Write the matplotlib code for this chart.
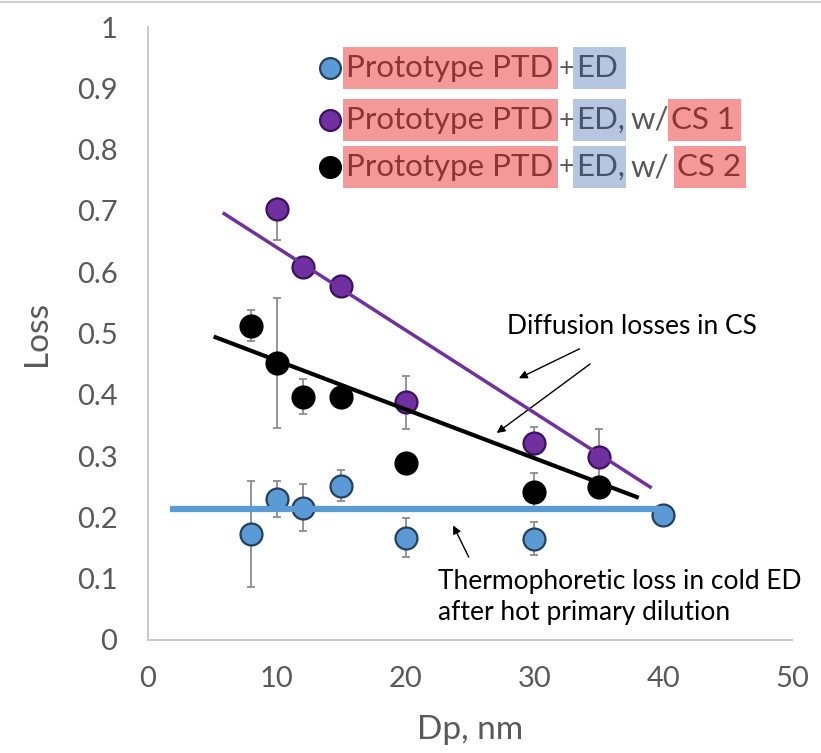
import matplotlib
matplotlib.use("Agg")
import matplotlib.pyplot as plt
from matplotlib.patches import Rectangle

# ---- data ----
dp_ed = [8, 10, 12, 15, 20, 30, 40]
loss_ed = [0.173, 0.230, 0.216, 0.252, 0.167, 0.165, 0.204]
err_ed = [0.087, 0.030, 0.038, 0.025, 0.032, 0.027, 0.015]

dp_cs1 = [10, 12, 15, 20, 30, 35]
loss_cs1 = [0.703, 0.609, 0.577, 0.388, 0.322, 0.299]
err_cs1 = [0.050, 0.0, 0.0, 0.043, 0.025, 0.046]

dp_cs2 = [8, 10, 12, 15, 20, 30, 35]
loss_cs2 = [0.513, 0.452, 0.397, 0.397, 0.288, 0.242, 0.250]
err_cs2 = [0.025, 0.106, 0.028, 0.0, 0.0, 0.030, 0.0]

# trend lines (end points)
fit_ed_x = [1.7, 40.0]
fit_ed_y = [0.214, 0.214]
fit_cs1_x = [5.8, 39.1]
fit_cs1_y = [0.697, 0.248]
fit_cs2_x = [5.1, 38.1]
fit_cs2_y = [0.495, 0.232]

x_ticks = [0, 10, 20, 30, 40, 50]
y_ticks = [0, 0.1, 0.2, 0.3, 0.4, 0.5, 0.6, 0.7, 0.8, 0.9, 1]
y_ticklabels = ["0", "0.1", "0.2", "0.3", "0.4", "0.5", "0.6", "0.7", "0.8", "0.9", "1"]

BLUE = "#5B9BD5"
PURPLE = "#7030A0"
GRAY = "#595959"
RED_BOX = "#F49898"
BLUE_BOX = "#B4C6E0"

W, H = 821, 753
plt.rcParams["font.family"] = ["Lato", "DejaVu Sans"]

fig = plt.figure(figsize=(W / 100, H / 100), dpi=100)
ax = fig.add_axes([148 / W, 1 - 640 / H, (792 - 148) / W, (640 - 27) / H])


def px(x, y):
    # figure pixel (from top-left) -> figure fraction
    return x / W, 1 - y / H


def series(x, y, err, face, edge):
    ax.errorbar(x, y, yerr=err, fmt="none", ecolor="#8C8C8C", elinewidth=1.3,
                capsize=3, capthick=1.3, zorder=2)
    ax.plot(x, y, "o", ms=15.8, mfc=face, mec=edge, mew=1.6, zorder=3)


series(dp_ed, loss_ed, err_ed, BLUE, "#24405E")
series(dp_cs1, loss_cs1, err_cs1, PURPLE, "#3A1260")
series(dp_cs2, loss_cs2, err_cs2, "black", "black")

ax.plot(fit_ed_x, fit_ed_y, color=BLUE, lw=4.5, solid_capstyle="butt", zorder=4)
ax.plot(fit_cs1_x, fit_cs1_y, color=PURPLE, lw=2.5, solid_capstyle="butt", zorder=4)
ax.plot(fit_cs2_x, fit_cs2_y, color="black", lw=3, solid_capstyle="butt", zorder=4)

ax.set_xlim(0, 50)
ax.set_ylim(0, 1)
ax.set_xticks(x_ticks)
ax.set_yticks(y_ticks)
ax.set_yticklabels(y_ticklabels)
ax.tick_params(length=0, labelsize=21, labelcolor=GRAY)
ax.tick_params(axis="y", pad=22)
ax.tick_params(axis="x", pad=19)
for s in ["top", "right"]:
    ax.spines[s].set_visible(False)
for s in ["left", "bottom"]:
    ax.spines[s].set_color("#BFBFBF")
    ax.spines[s].set_linewidth(1.2)

ax.set_xlabel("Dp, nm", fontsize=24, color=GRAY)
ax.set_ylabel("Loss", fontsize=24, color=GRAY)
ax.xaxis.set_label_coords(0.5, -0.122)
ax.yaxis.set_label_coords(-0.149, 0.5)

# annotations
ax.text(27.9, 0.511, "Diffusion losses in CS", fontsize=19, color="black", va="center")
arrow = dict(arrowstyle="-|>", color="black", lw=1.0, mutation_scale=12)
ax.annotate("", xy=(28.6, 0.425), xytext=(33.7, 0.477), arrowprops=arrow)
ax.annotate("", xy=(26.9, 0.335), xytext=(34.5, 0.453), arrowprops=arrow)
ax.text(22.5, 0.070, "Thermophoretic loss in cold ED\nafter hot primary dilution",
        fontsize=19, color="black", va="center", linespacing=1.3)
ax.annotate("", xy=(23.6, 0.191), xytext=(25.0, 0.131), arrowprops=arrow)

# legend: white panel hiding the plot behind it (axes fraction)
ax.add_patch(Rectangle((0.166, 0.7227), 0.784, 0.2773, transform=ax.transAxes,
                       facecolor="white", edgecolor="none", zorder=10, clip_on=False))

rows = [
    (68, BLUE, "#24405E", ["ED"], []),
    (120, PURPLE, "#3A1260", ["ED,"], [("CS 1", 668, 741)]),
    (167, "black", "black", ["ED,"], [("CS 2", 674, 746)]),
]
for yc, face, edge, ed_txt, cs in rows:
    mx, my = px(330, yc)
    fig.add_artist(plt.Line2D([mx], [my], marker="o", ms=15, mfc=face, mec=edge,
                              mew=1.6, transform=fig.transFigure, zorder=6))
    boxes = [("Prototype PTD", 343, 558, RED_BOX, "#8A3434"),
             (ed_txt[0], 573, 626, BLUE_BOX, "#46556B")]
    boxes += [(t, x0, x1, RED_BOX, "#8A3434") for t, x0, x1 in cs]
    for t, x0, x1, fc, tc in boxes:
        fig.add_artist(Rectangle(px(x0, yc + 21), (x1 - x0) / W, 42 / H,
                                 transform=fig.transFigure, facecolor=fc,
                                 edgecolor="none", zorder=6))
        fig.text(*px(x0 + 3, yc), t, fontsize=22.5, color=tc, va="center", zorder=7)
    fig.text(*px(559, yc), "+", fontsize=19, color=GRAY, va="center", zorder=7)
    if cs:
        fig.text(*px(630, yc), "w/", fontsize=22.5, color=GRAY, va="center", zorder=7)

# faint screenshot border on top
fig.add_artist(plt.Line2D([0, 1], [1 - 1.5 / H, 1 - 1.5 / H], color="#D0D0D0", lw=1.5,
                          transform=fig.transFigure))

fig.savefig("out.png", dpi=100)
